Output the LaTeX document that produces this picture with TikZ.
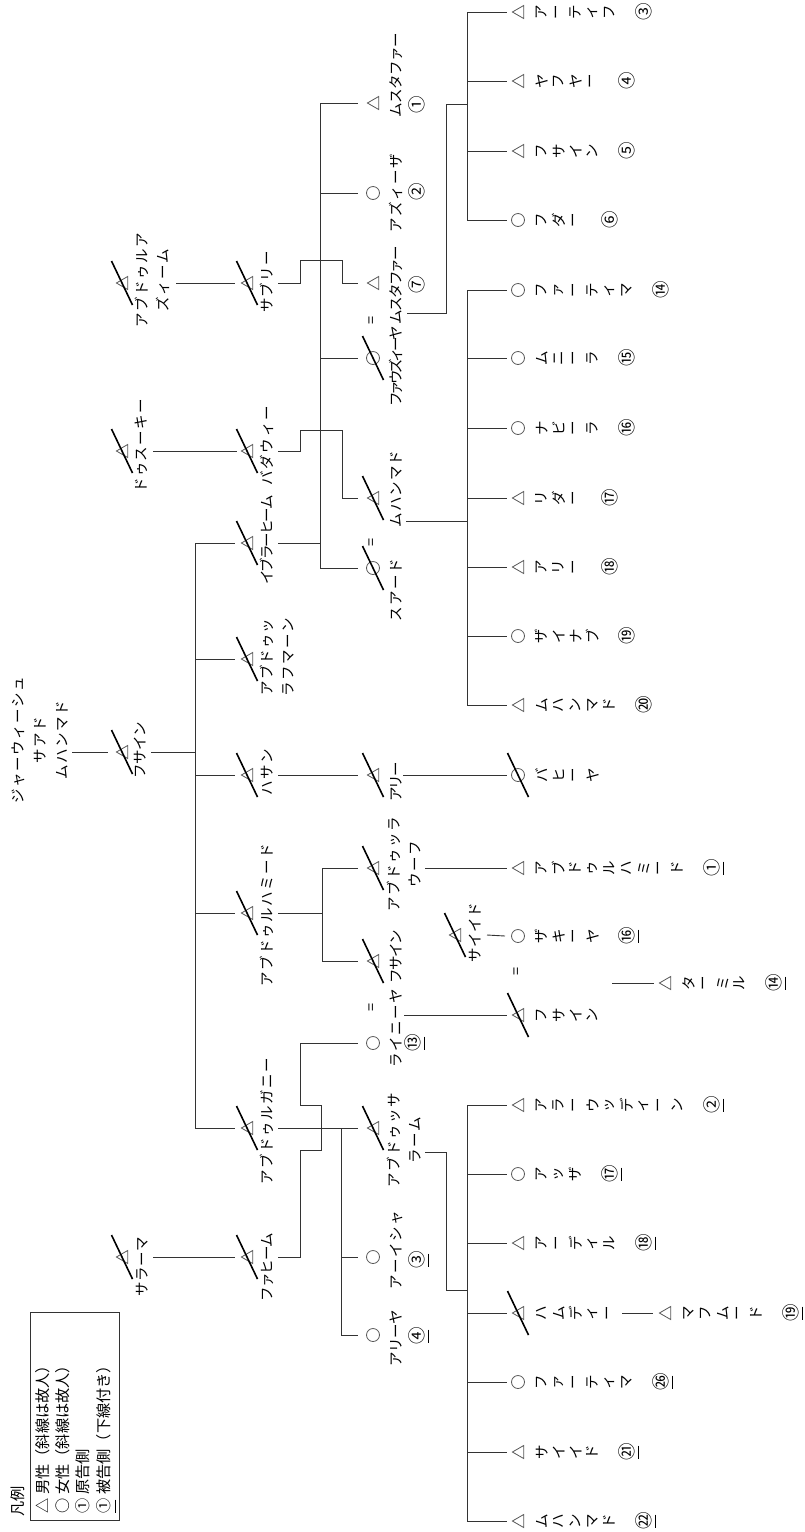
\documentclass[tikz,border=0pt]{standalone}
\usepackage{fontspec}
\usepackage{graphicx}
\setmainfont{Noto Sans CJK JP}
\usetikzlibrary{shapes.geometric}
\newdimen\hpitch \hpitch=16pt
\newdimen\vpitch \vpitch=17pt
\makeatletter
\def\hname#1{\hname@x#1\relax}
\def\hname@x#1{\ifx\relax#1\else\makebox[\hpitch]{#1}\expandafter\hname@x\fi}
\def\vname#1{\vname@x#1\relax}
\def\vname@x#1{\ifx\relax#1\else\makebox[\vpitch]{\rotatebox{90}{#1}}\expandafter\vname@x\fi}
\makeatother
\newcommand\namefont{\fontsize{14.5pt}{21pt}\selectfont}
\newcommand\numfont{\fontsize{17.5pt}{20pt}\selectfont}
\newcommand\legfont{\fontsize{15.2pt}{20pt}\selectfont}
% persons
\newcommand\M[3]{\coordinate (#1) at (#2,#3); \node[mal] (#1-s) at ([xshift=1.9pt]#1) {};}
\newcommand\F[3]{\coordinate (#1) at (#2,#3); \node[fem] (#1-s) at (#1) {};}
\newcommand\D[1]{\draw[slash] ([shift={(-10.5,-22)}]#1) -- ([shift={(10.5,22)}]#1);}
\newcommand\HN[5][16]{\node[lbl] (#2) at (#3,#4) {\hpitch=#1pt\hname{#5}};}
\newcommand\VN[4]{\node[vlbl] (#1) at (#2,#3) {\vname{#4}};}
\newcommand\NUM[4]{\node[num] (#1) at (#2,#3) {#4};}
\newcommand\UNUM[4]{\node[num] (#1) at (#2,#3) {#4};
  \draw[uline] ([shift={(11,-6.5)}]#1.center) -- ([shift={(11,6.5)}]#1.center);}
\begin{document}
\begin{tikzpicture}[x=1pt,y=-1pt,
  line/.style={line width=0.9pt, draw=black!80},
  slash/.style={line width=1.6pt, draw=black},
  uline/.style={line width=0.9pt, draw=black},
  sym/.style={draw=black!65, line width=0.8pt, inner sep=0pt, fill=none},
  mal/.style={sym, regular polygon, regular polygon sides=3, shape border rotate=90, minimum size=15pt},
  fem/.style={sym, circle, minimum size=13pt},
  lbl/.style={rotate=90, font=\namefont, inner sep=0pt, text=black},
  vlbl/.style={anchor=west, font=\namefont, inner sep=0pt, text=black},
  num/.style={rotate=90, font=\numfont, inner sep=0pt},
  eq/.style={rotate=90, font=\namefont, inner sep=0pt}]
\useasboundingbox (0,0) rectangle (805,1532);
\fill[white] (0,0) rectangle (805,1532);

% ---------- generation 0
\node[lbl, align=center, font=\fontsize{14.5pt}{22pt}\selectfont] (root) at (40,740)
  {\hname{ジャーウィーシュ}\\\hname{サアド}\\\hname{ムハンマド}};

% ---------- generation 1
\M{azim}{122}{283}\D{azim}
\node[lbl, align=center] (azim-n) at (152,280) {\hname{アブドゥルア}\\\hname{ズィーム}};
\M{dusuki}{122}{451}\D{dusuki} \HN[15.8]{dusuki-n}{141}{446}{ドゥスーキー}
\M{husain1}{122}{752}\D{husain1} \HN[14]{husain1-n}{140}{750}{フサイン}
\M{salama}{122}{1257}\D{salama} \HN[15]{salama-n}{142}{1267}{サラーマ}

% ---------- generation 2
\M{sabri}{247}{283}\D{sabri} \HN[15.7]{sabri-n}{267}{282}{サブリー}
\M{badawi}{247}{451}\D{badawi} \HN[16.3]{badawi-n}{267}{446}{バダウィー}
\M{ibrahim}{247}{543}\D{ibrahim} \HN[12.5]{ibrahim-n}{267}{540}{イブラーヒーム}
\M{rahman}{247}{659}\D{rahman}
\node[lbl, align=center] (rahman-n) at (277,657) {\hpitch=15.4pt\hname{アブドゥッ}\\\hname{ラフマーン}};
\M{hasan}{247}{775}\D{hasan} \HN{hasan-n}{267}{772}{ハサン}
\M{hamid}{247}{913}\D{hamid} \HN{hamid-n}{267}{915}{アブドゥルハミード}
\M{ghani}{247}{1128}\D{ghani} \HN{ghani-n}{267}{1121}{アブドゥルガニー}
\M{fahim}{247}{1257}\D{fahim} \HN[13.4]{fahim-n}{267}{1267}{ファヒーム}

% ---------- generation 3
\M{mus1}{373}{103} \HN[14]{mus1-n}{396}{75}{ムスタファー} \NUM{mus1-k}{417}{105}{①}
\F{aziza}{373}{193} \HN{aziza-n}{396}{193}{アズィーザ} \NUM{aziza-k}{417}{192}{②}
\M{mus7}{373}{283} \HN[12.7]{mus7-n}{396}{285}{ムスタファー} \NUM{mus7-k}{417}{285}{⑦}
\node[eq] (eq1) at (373,320) {=};
\F{fawziya}{373}{358}\D{fawziya} \HN[11]{fawziya-n}{396}{366}{ファウズィーヤ}
\M{muh}{373}{498}\D{muh} \HN[15.6]{muh-n}{396}{489}{ムハンマド}
\node[eq] (eq2) at (373,542) {=};
\F{suad}{373}{568}\D{suad} \HN{suad-n}{396}{590}{スアード}
\M{ali}{373}{775}\D{ali} \HN[12.5]{ali-n}{396}{782}{アリー}
\M{rauf}{373}{868}\D{rauf}
\node[lbl, align=center] (rauf-n) at (404,864) {\hname{アブドゥッラ}\\\hname{ウーフ}};
\M{husain2}{373}{961}\D{husain2} \HN[13]{husain2-n}{396}{957}{フサイン}
\node[eq] (eq3) at (373,1007) {=};
\F{rainiya}{373}{1043} \HN{rainiya-n}{396}{1028}{ライニーヤ} \UNUM{rainiya-k}{413}{1043}{⑬}
\M{salam}{373}{1128}\D{salam}
\node[lbl, align=center] (salam-n) at (404,1140) {\hname{アブドゥッサ}\\\hname{ラーム}};
\F{aisha}{373}{1257} \HN{aisha-n}{396}{1250}{アーイシャ} \UNUM{aisha-k}{417}{1260}{③}
\F{aliya}{373}{1335} \HN[14]{aliya-n}{396}{1338}{アリーヤ} \UNUM{aliya-k}{417}{1336}{④}
\M{said}{455}{935}\D{said} \HN[15]{said-n}{475}{933}{サイイド}

% ---------- generation 4
\M{atif}{518}{12} \VN{atif-n}{533}{12}{アーティフ} \NUM{atif-k}{644}{12}{③}
\M{yahya}{518}{81} \VN{yahya-n}{533}{81}{ヤフヤー} \NUM{yahya-k}{627}{81}{④}
\M{husainA}{518}{151} \VN{husainA-n}{533}{151}{フサイン} \NUM{husainA-k}{627}{151}{⑤}
\F{huda}{518}{220} \VN{huda-n}{533}{220}{フダー} \NUM{huda-k}{610}{220}{⑥}
\F{fatima}{518}{290} \VN{fatima-n}{533}{290}{ファーティマ} \NUM{fatima-k}{661}{290}{⑭}
\F{munira}{518}{358} \VN{munira-n}{533}{358}{ムニーラ} \NUM{munira-k}{627}{358}{⑮}
\F{nabila}{518}{428} \VN{nabila-n}{533}{428}{ナビーラ} \NUM{nabila-k}{627}{428}{⑯}
\M{rida}{518}{498} \VN{rida-n}{533}{498}{リダー} \NUM{rida-k}{610}{498}{⑰}
\M{aliB}{518}{567} \VN{aliB-n}{533}{567}{アリー} \NUM{aliB-k}{610}{567}{⑱}
\F{zainab}{518}{636} \VN{zainab-n}{533}{636}{ザイナブ} \NUM{zainab-k}{627}{636}{⑲}
\M{muhB}{518}{705} \VN{muhB-n}{533}{705}{ムハンマド} \NUM{muhB-k}{644}{705}{⑳}
\F{bahiya}{518}{775}\D{bahiya} \VN{bahiya-n}{533}{775}{バヒーヤ}
\M{hamidC}{518}{868} \VN{hamidC-n}{533}{868}{アブドゥルハミード} \UNUM{hamidC-k}{712}{868}{①}
\F{zakiya}{518}{936} \VN{zakiya-n}{533}{936}{ザキーヤ} \UNUM{zakiya-k}{627}{936}{⑯}
\node[eq] (eq4) at (518,971) {=};
\M{husain3}{518}{1015}\D{husain3} \VN{husain3-n}{533}{1015}{フサイン}
\M{alauddin}{518}{1105} \VN{alauddin-n}{533}{1105}{アラーウッディーン} \UNUM{alauddin-k}{712}{1105}{②}
\F{azza}{518}{1174} \VN{azza-n}{533}{1174}{アッザ} \UNUM{azza-k}{610}{1174}{⑰}
\M{adil}{518}{1243} \VN{adil-n}{533}{1243}{アーディル} \UNUM{adil-k}{644}{1243}{⑱}
\M{hamdi}{518}{1313}\D{hamdi} \VN{hamdi-n}{533}{1313}{ハムディー}
\F{fatimaC}{518}{1382} \VN{fatimaC-n}{533}{1382}{ファーティマ} \UNUM{fatimaC-k}{661}{1382}{㉖}
\M{saidC}{518}{1452} \VN{saidC-n}{533}{1452}{サイイド} \UNUM{saidC-k}{627}{1452}{㉑}
\M{muhC}{518}{1521} \VN{muhC-n}{533}{1521}{ムハンマド} \UNUM{muhC-k}{644}{1521}{㉒}

% ---------- generation 5
\M{tamil}{665}{983} \VN{tamil-n}{680}{983}{ターミル} \UNUM{tamil-k}{774}{983}{⑭}
\M{mahmud}{665}{1313} \VN{mahmud-n}{680}{1313}{マフムード} \UNUM{mahmud-k}{791}{1313}{⑲}

% ---------- connectors
\draw[line] ([xshift=-50pt]husain1) -- ([xshift=-14pt]husain1);
\draw[line] ([xshift=54pt]azim) -- ([xshift=-12pt]sabri);
\draw[line] ([xshift=31pt]dusuki) -- ([xshift=-10pt]badawi);
\draw[line] ([xshift=31pt]salama) -- ([xshift=-12pt]fahim);
\draw[line] ([xshift=29pt]husain1) -- ++(44,0);
\draw[line] ([xshift=-52pt]ibrahim) -- ([xshift=-52pt]ghani);
\foreach \p in {ibrahim,rahman,hasan,hamid,ghani}
  \draw[line] ([xshift=-52pt]\p) -- ([xshift=-12pt]\p);
% children of Ibrahim
\draw[line] ([xshift=31pt]ibrahim) -- ++(42,0);
\draw[line] ([xshift=-53pt]mus1) -- ([xshift=-53pt]suad);
\foreach \p in {mus1,aziza,fawziya,suad}
  \draw[line] ([xshift=-53pt]\p) -- ([xshift=-15pt]\p);
% Sabri -> Mustafa 7
\draw[line] ([xshift=31pt]sabri) -- ++(22,0) -- ++(0,-23) -- ++(42,0) -- ++(0,23) -- ([xshift=-15pt]mus7);
% Badawi -> Muhammad
\draw[line] ([xshift=31pt]badawi) -- ++(22,0) -- ++(0,-21) -- ++(42,0) |- ([xshift=-15pt]muh);
% Hasan -> Ali
\draw[line] ([xshift=31pt]hasan) -- ([xshift=-15pt]ali);
% Abdulhamid
\draw[line] ([xshift=31pt]hamid) -- ++(44,0);
\draw[line] ([xshift=-51pt]rauf) -- ([xshift=-51pt]husain2);
\foreach \p in {rauf,husain2}
  \draw[line] ([xshift=-51pt]\p) -- ([xshift=-15pt]\p);
% Abdulghani
\draw[line] ([xshift=31pt]ghani) -- ([xshift=-15pt]salam);
\draw[line] ([xshift=-32pt]salam) -- ([xshift=-32pt]aliya);
\foreach \p in {aisha,aliya}
  \draw[line] ([xshift=-32pt]\p) -- ([xshift=-15pt]\p);
% Fahim -> Rainiya
\draw[line] ([xshift=31pt]fahim) -- ++(22,0) -- ++(0,-107) -- ++(21,0) -- ++(0,-45) -- ++(-21,0) |- ([xshift=-15pt]rainiya);
% Mustafa 7 + Fawziya -> children
\draw[line] ([shift={(34,30)}]mus7) -- ++(39,0) -- ++(0,-209) -- ++(21,0);
\draw[line] ([xshift=-51pt]atif) -- ([xshift=-51pt]huda);
\foreach \p in {atif,yahya,husainA,huda}
  \draw[line] ([xshift=-51pt]\p) -- ([xshift=-11pt]\p);
% Muhammad + Suad -> children
\draw[line] ([shift={(33,23)}]muh) -- ++(61,0);
\draw[line] ([xshift=-51pt]fatima) -- ([xshift=-51pt]muhB);
\foreach \p in {fatima,munira,nabila,rida,aliB,zainab,muhB}
  \draw[line] ([xshift=-51pt]\p) -- ([xshift=-11pt]\p);
% single lines
\draw[line] ([xshift=30pt]ali) -- ([xshift=-11pt]bahiya);
\draw[line] ([xshift=52pt]rauf) -- ([xshift=-11pt]hamidC);
\draw[line] ([xshift=32pt]said) -- ([xshift=-13pt]zakiya);
\draw[line] ([shift={(31,54)}]husain2) -- ([xshift=-11pt]husain3);
\draw[line] ([shift={(94,47)}]zakiya) -- ([xshift=-11pt]tamil);
% Abdussalam -> children
\draw[line] ([shift={(52,24)}]salam) -- ++(21,0) -- ++(0,138) -- ++(21,0);
\draw[line] ([xshift=-51pt]alauddin) -- ([xshift=-51pt]muhC);
\foreach \p in {alauddin,azza,adil,hamdi,fatimaC,saidC,muhC}
  \draw[line] ([xshift=-51pt]\p) -- ([xshift=-11pt]\p);
\draw[line] ([xshift=104pt]hamdi) -- ([xshift=-12pt]mahmud);

% ---------- legend
\node[draw=black!80, line width=0.9pt, minimum width=89pt, minimum height=208pt, inner sep=0pt] (legend) at (74.5,1416) {};
\node[lbl, anchor=west, font=\legfont] (leg0) at (18,1517) {凡例};
\node[lbl, anchor=west, font=\legfont] (leg1) at (43,1514) {△\hspace{4pt}男性（斜線は故人）};
\node[lbl, anchor=west, font=\legfont] (leg2) at (63,1514) {○\hspace{4pt}女性（斜線は故人）};
\node[lbl, anchor=west, font=\legfont] (leg3) at (83,1514) {①\hspace{4pt}原告側};
\node[lbl, anchor=west, font=\legfont] (leg4) at (104,1514) {①\hspace{4pt}被告側（下線付き）};
\draw[uline] ([shift={(11,-14.5)}]leg4.west) -- ([shift={(11,-1)}]leg4.west);
\end{tikzpicture}
\end{document}
